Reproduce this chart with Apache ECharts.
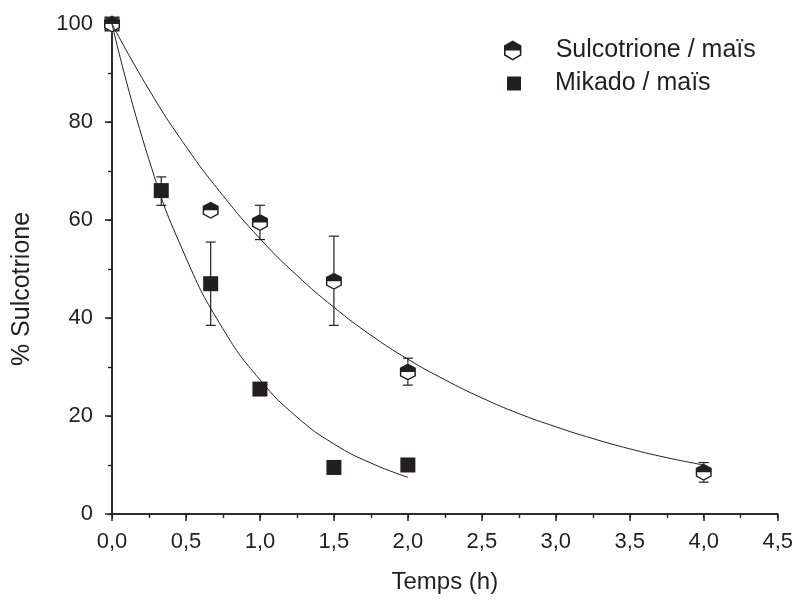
<!DOCTYPE html>
<html>
<head>
<meta charset="utf-8">
<script src="https://cdn.jsdelivr.net/npm/echarts@6/dist/echarts.min.js"></script>
<style>
  html, body { margin: 0; padding: 0; background: #fff; }
  #main { width: 796px; height: 601px; }
</style>
</head>
<body>
<div id="main"></div>
<script>
// measured points (time in h, % remaining)
const sulcoTimes = [0, 0.667, 1.0, 1.5, 2.0, 4.0];
const sulcoValues = [100, 62, 59.5, 47.5, 29, 8.5];
const sulcoErrLow = [99, 61, 56, 38.5, 26.3, 6.5];
const sulcoErrHigh = [101, 63, 63, 56.7, 31.8, 10.5];

const mikadoTimes = [0, 0.333, 0.667, 1.0, 1.5, 2.0];
const mikadoValues = [100, 66, 47, 25.5, 9.5, 10];
const mikadoErrLow = [100, 63, 38.5, 25.5, 9.5, 10];
const mikadoErrHigh = [100, 68.8, 55.5, 25.5, 9.5, 10];

// fitted curves, every 0.25 h
const sulcoFitTimes = [0, 0.25, 0.5, 0.75, 1, 1.25, 1.5, 1.75, 2, 2.25, 2.5, 2.75, 3, 3.25, 3.5, 3.75, 4];
const sulcoFitValues = [100, 86.6, 75, 65, 56.2, 48.7, 42.2, 36.5, 31.6, 27.4, 23.7, 20.5, 17.8, 15.4, 13.3, 11.5, 10];
const mikadoFitTimes = [0, 0.25, 0.5, 0.75, 1, 1.25, 1.5, 1.75, 2];
const mikadoFitValues = [100, 72.3, 52.3, 37.8, 27.4, 19.8, 14.3, 10.4, 7.5];

const xTicks = ['0,0', '0,5', '1,0', '1,5', '2,0', '2,5', '3,0', '3,5', '4,0', '4,5'];

const ink = '#231f20';
const font = 'Liberation Sans, Arial, sans-serif';

const HEX = 'path://M87 0L174 50L174 150L87 200L0 150L0 50Z';
// top half filled, bottom half as outline ring
const HALF_HEX = 'path://M87 0L174 50L174 100L0 100L0 50Z M174 100L174 150L87 200L0 150L0 100Z M16 100L16 141L87 182L158 141L158 100Z';

const zip = (xs, ys) => xs.map((x, i) => [x, ys[i]]);

function errorBars(xs, lo, hi) {
    return xs.map((x, i) => [x, lo[i], hi[i]]).filter(d => d[2] - d[1] > 0.1);
}

function renderErr(params, api) {
    const x = api.value(0);
    const low = api.coord([x, api.value(1)]);
    const high = api.coord([x, api.value(2)]);
    const cap = 5;
    const style = { stroke: ink, lineWidth: 1.2 };
    return {
        type: 'group',
        children: [
            { type: 'line', shape: { x1: low[0], y1: low[1], x2: high[0], y2: high[1] }, style: style },
            { type: 'line', shape: { x1: low[0] - cap, y1: low[1], x2: low[0] + cap, y2: low[1] }, style: style },
            { type: 'line', shape: { x1: high[0] - cap, y1: high[1], x2: high[0] + cap, y2: high[1] }, style: style }
        ]
    };
}

const myChart = echarts.init(document.getElementById('main'));

const labelFmt = v => xTicks[Math.round(v / 0.5)];
const legendText = { fontSize: 25, color: ink, fontFamily: font };

let option = {
    animation: false,
    backgroundColor: '#fff',
    textStyle: { fontFamily: font, color: ink },
    grid: { left: 112, right: 18, top: 24, bottom: 87 },
    legend: [
        {
            left: 504, top: 38, padding: 0,
            itemWidth: 20, itemHeight: 20,
            data: [{ name: 'Sulcotrione / maïs', icon: HALF_HEX }],
            textStyle: Object.assign({ padding: [0, 0, 0, 28] }, legendText)
        },
        {
            left: 507, top: 71, padding: 0,
            itemWidth: 14, itemHeight: 14,
            data: [{ name: 'Mikado / maïs', icon: 'rect' }],
            textStyle: Object.assign({ padding: [0, 0, 0, 29] }, legendText)
        }
    ],
    xAxis: [
        {
            type: 'value', min: 0, max: 4.5, interval: 0.5,
            name: 'Temps (h)', nameLocation: 'middle', nameGap: 56,
            nameTextStyle: { fontSize: 24, color: ink },
            axisLine: { show: true, lineStyle: { color: ink, width: 1.5 } },
            axisTick: { show: true, inside: false, length: 7, lineStyle: { color: ink, width: 1.5 } },
            minorTick: { show: true, splitNumber: 2, length: 4, lineStyle: { color: ink, width: 1.2 } },
            axisLabel: { fontSize: 22, color: ink, margin: 17, formatter: labelFmt },
            splitLine: { show: false }
        },
        {
            type: 'value', position: 'top', min: 0, max: 4.5, interval: 0.5,
            axisLine: { show: true, lineStyle: { color: ink, width: 1.5 } },
            axisTick: { show: true, inside: true, length: 4, lineStyle: { color: ink, width: 1.2 } },
            minorTick: { show: true, splitNumber: 2, length: 4, lineStyle: { color: ink, width: 1.2 } },
            axisLabel: { show: false },
            splitLine: { show: false }
        }
    ],
    yAxis: [
        {
            type: 'value', min: 0, max: 100, interval: 20,
            name: '% Sulcotrione', nameLocation: 'middle', nameGap: 77, nameRotate: 90,
            nameTextStyle: { fontSize: 25, color: ink, padding: [0, 40, 0, 0] },
            axisLine: { show: true, lineStyle: { color: ink, width: 1.5 } },
            axisTick: { show: true, inside: false, length: 7, lineStyle: { color: ink, width: 1.5 } },
            minorTick: { show: true, splitNumber: 2, length: 4, lineStyle: { color: ink, width: 1.2 } },
            axisLabel: { fontSize: 22, color: ink, margin: 19 },
            splitLine: { show: false }
        },
        {
            type: 'value', position: 'right', min: 0, max: 100, interval: 20,
            axisLine: { show: true, lineStyle: { color: ink, width: 1.5 } },
            axisTick: { show: true, inside: true, length: 4, lineStyle: { color: ink, width: 1.2 } },
            minorTick: { show: true, splitNumber: 2, length: 4, lineStyle: { color: ink, width: 1.2 } },
            axisLabel: { show: false },
            splitLine: { show: false }
        }
    ],
    series: [
        {
            type: 'custom', name: 'err-sulco', renderItem: renderErr,
            encode: { x: 0, y: [1, 2] },
            data: errorBars(sulcoTimes, sulcoErrLow, sulcoErrHigh)
        },
        {
            type: 'custom', name: 'err-mikado', renderItem: renderErr,
            encode: { x: 0, y: [1, 2] },
            data: errorBars(mikadoTimes, mikadoErrLow, mikadoErrHigh)
        },
        {
            type: 'line', name: 'fit-sulco', smooth: true, showSymbol: false, symbol: 'none',
            lineStyle: { color: ink, width: 1 },
            data: zip(sulcoFitTimes, sulcoFitValues)
        },
        {
            type: 'line', name: 'fit-mikado', smooth: true, showSymbol: false, symbol: 'none',
            lineStyle: { color: ink, width: 1 },
            data: zip(mikadoFitTimes, mikadoFitValues)
        },
        {
            type: 'scatter', name: 'Mikado / maïs', symbol: 'rect', symbolSize: 15,
            itemStyle: { color: ink, opacity: 1 },
            data: zip(mikadoTimes, mikadoValues)
        },
        {
            type: 'scatter', name: 'sulco-back', symbol: HEX, symbolSize: [16, 17],
            itemStyle: { color: '#fff', opacity: 1 },
            data: zip(sulcoTimes, sulcoValues)
        },
        {
            type: 'scatter', name: 'Sulcotrione / maïs', symbol: HALF_HEX, symbolSize: [16, 17],
            itemStyle: { color: ink, opacity: 1 },
            data: zip(sulcoTimes, sulcoValues)
        }
    ]
};

option && myChart.setOption(option);
</script>
</body>
</html>
